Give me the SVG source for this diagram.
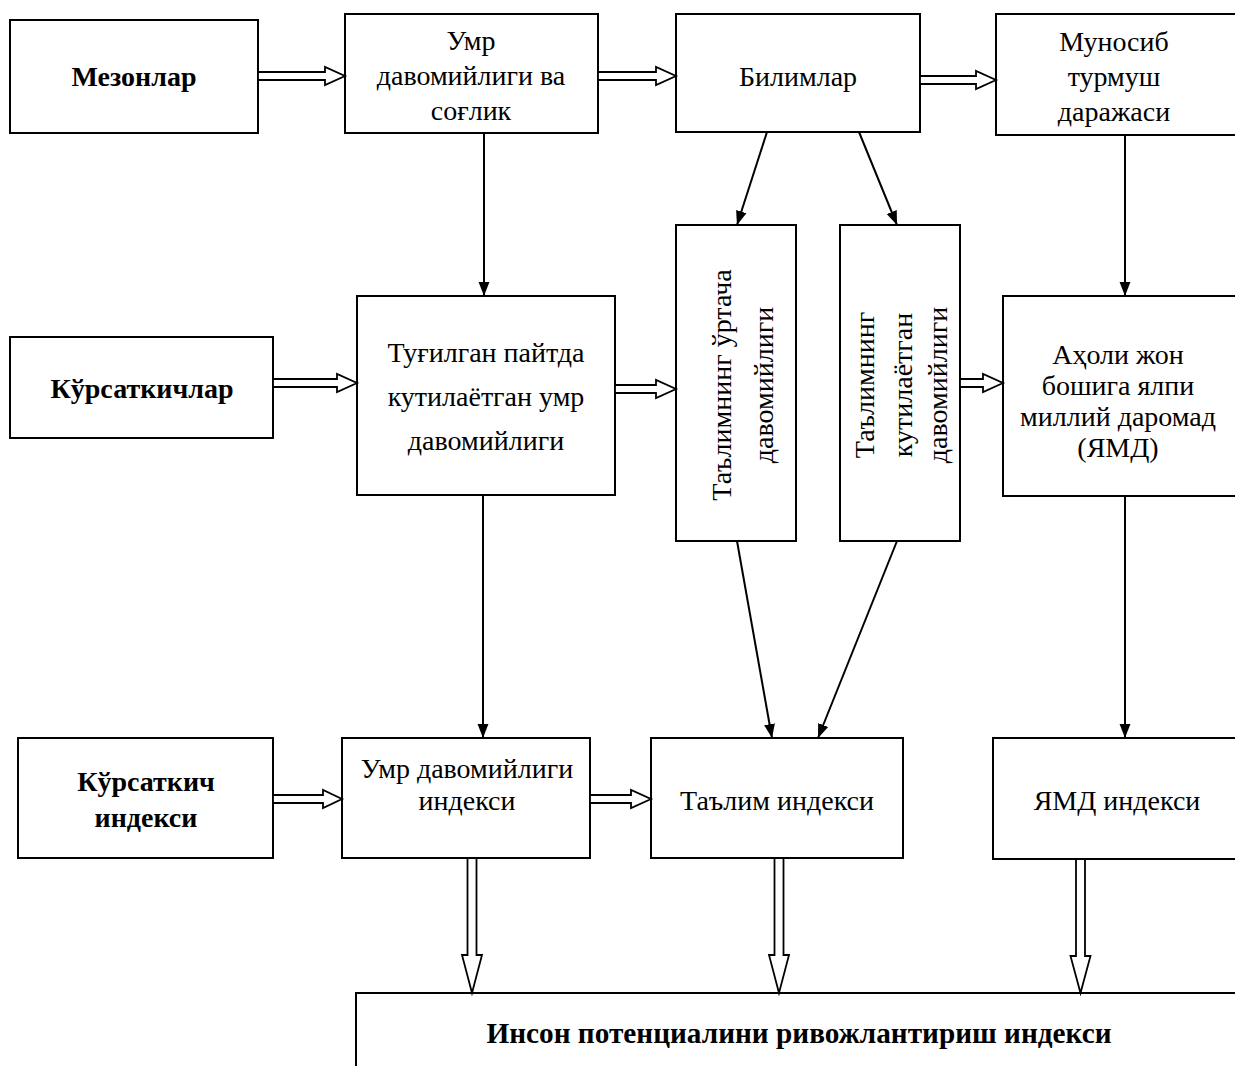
<svg xmlns="http://www.w3.org/2000/svg" width="1235" height="1066" viewBox="0 0 1235 1066">
<defs>
<style>
.box{fill:#fff;stroke:#000;stroke-width:2}
.t{font-family:"Liberation Serif","Times New Roman",serif;font-size:28px;fill:#000;text-anchor:middle}
.b{font-weight:bold}
.ln{stroke:#000;stroke-width:2;fill:none;marker-end:url(#ah)}
.ha{fill:#fff;stroke:#000;stroke-width:1.8;stroke-linejoin:miter}
</style>
<marker id="ah" markerUnits="userSpaceOnUse" markerWidth="14" markerHeight="18" viewBox="0 0 18 14" refX="18" refY="7" orient="auto">
<path d="M0,0 L18,7 L0,14 z" fill="#000"/>
</marker>
</defs>
<rect width="1235" height="1066" fill="#fff"/>

<g id="n1"><rect class="box" x="10" y="20" width="248" height="113"/><text class="t b" x="134" y="86">Мезонлар</text></g>
<g id="n2"><rect class="box" x="345" y="14" width="253" height="119"/><text class="t" x="471"><tspan x="471" y="50">Умр</tspan><tspan x="471" y="85">давомийлиги ва</tspan><tspan x="471" y="120">соғлик</tspan></text></g>
<g id="n3"><rect class="box" x="676" y="14" width="244" height="118"/><text class="t" x="798" y="86">Билимлар</text></g>
<g id="n4"><rect class="box" x="996" y="14" width="250" height="121"/><text class="t"><tspan x="1114" y="51">Муносиб</tspan><tspan x="1114" y="86">турмуш</tspan><tspan x="1114" y="121">даражаси</tspan></text></g>

<g id="n5"><rect class="box" x="10" y="337" width="263" height="101"/><text class="t b" x="142" y="398">Кўрсаткичлар</text></g>
<g id="n6"><rect class="box" x="357" y="296" width="258" height="199"/><text class="t"><tspan x="486" y="362">Туғилган пайтда</tspan><tspan x="486" y="406">кутилаётган умр</tspan><tspan x="486" y="450">давомийлиги</tspan></text></g>
<g id="n7"><rect class="box" x="676" y="225" width="120" height="316"/><text class="t" transform="translate(736,385) rotate(-90)"><tspan x="0" y="-5">Таълимнинг ўртача</tspan><tspan x="0" y="37">давомийлиги</tspan></text></g>
<g id="n8"><rect class="box" x="840" y="225" width="120" height="316"/><text class="t" transform="translate(900,385) rotate(-90)"><tspan x="0" y="-26">Таълимнинг</tspan><tspan x="0" y="12">кутилаётган</tspan><tspan x="0" y="47">давомийлиги</tspan></text></g>
<g id="n9"><rect class="box" x="1003" y="296" width="245" height="200"/><text class="t"><tspan x="1118" y="364">Аҳоли жон</tspan><tspan x="1118" y="395">бошига ялпи</tspan><tspan x="1118" y="426">миллий даромад</tspan><tspan x="1118" y="457">(ЯМД)</tspan></text></g>

<g id="n10"><rect class="box" x="18" y="738" width="255" height="120"/><text class="t b"><tspan x="146" y="791">Кўрсаткич</tspan><tspan x="146" y="827">индекси</tspan></text></g>
<g id="n11"><rect class="box" x="342" y="738" width="248" height="120"/><text class="t"><tspan x="467" y="778">Умр давомийлиги</tspan><tspan x="467" y="810">индекси</tspan></text></g>
<g id="n12"><rect class="box" x="651" y="738" width="252" height="120"/><text class="t" x="777" y="810">Таълим индекси</text></g>
<g id="n13"><rect class="box" x="993" y="738" width="255" height="121"/><text class="t" x="1117" y="810">ЯМД индекси</text></g>

<g id="n14"><rect class="box" x="356" y="993" width="892" height="90"/><text class="t b" x="799" y="1043" style="font-size:29px" textLength="625" lengthAdjust="spacingAndGlyphs">Инсон потенциалини ривожлантириш индекси</text></g>

<g id="connectors">
<polygon class="ha" points="258,72 325,72 325,67 345,76 325,85 325,80 258,80"/>
<polygon class="ha" points="598,72 656,72 656,67 676,76 656,85 656,80 598,80"/>
<polygon class="ha" points="920,76 976,76 976,71 996,80 976,89 976,84 920,84"/>
<polygon class="ha" points="273,379 337,379 337,374 357,383 337,392 337,387 273,387"/>
<polygon class="ha" points="615,385 656,385 656,380 676,389 656,398 656,393 615,393"/>
<polygon class="ha" points="960,379 983,379 983,374 1003,383 983,392 983,387 960,387"/>
<polygon class="ha" points="273,795 323,795 323,790 342,799 323,808 323,803 273,803"/>
<polygon class="ha" points="590,795 631,795 631,790 651,799 631,808 631,803 590,803"/>
<polygon class="ha" points="467.5,858 467.5,955 462,955 472,993 482,955 476.5,955 476.5,858"/>
<polygon class="ha" points="774.5,858 774.5,955 769,955 779,993 789,955 783.5,955 783.5,858"/>
<polygon class="ha" points="1076,859 1076,956 1070.5,956 1080.5,993 1090.5,956 1085,956 1085,859"/>
<line class="ln" x1="484" y1="133" x2="484" y2="296"/>
<line class="ln" x1="767" y1="132" x2="737" y2="225"/>
<line class="ln" x1="859" y1="132" x2="897" y2="225"/>
<line class="ln" x1="1125" y1="135" x2="1125" y2="296"/>
<line class="ln" x1="483" y1="495" x2="483" y2="738"/>
<line class="ln" x1="737" y1="541" x2="772" y2="738"/>
<line class="ln" x1="897" y1="541" x2="818" y2="738"/>
<line class="ln" x1="1125" y1="496" x2="1125" y2="738"/>
</g>
</svg>
